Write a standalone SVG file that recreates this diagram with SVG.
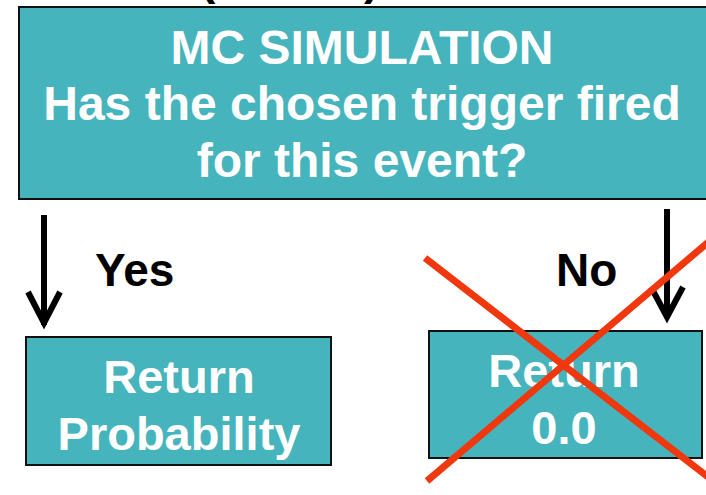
<svg xmlns="http://www.w3.org/2000/svg" width="706" height="495" viewBox="0 0 706 495">
  <style>
    .box { fill: #46b4bc; stroke: #111; stroke-width: 2; }
    .lbl { font-family: "Liberation Sans", Arial, sans-serif; font-weight: bold; fill: #fff; text-anchor: middle; }
    .edge-lbl { font-family: "Liberation Sans", Arial, sans-serif; font-weight: bold; fill: #000; font-size: 46px; }
    .arrow { fill: none; stroke: #000; stroke-width: 6; stroke-linejoin: miter; }
    .cross { stroke: #f0380f; stroke-width: 7; }
  </style>

  <!-- clipped heading fragment above the main box -->
  <text class="edge-lbl" font-size="48" x="200" y="-6">(</text>
  <text class="edge-lbl" font-size="48" x="364" y="-6">)</text>

  <g id="mc-simulation">
    <rect class="box" x="19" y="7" width="700" height="192"/>
    <text class="lbl" font-size="48" x="362" y="64">MC SIMULATION</text>
    <text class="lbl" font-size="48" x="362" y="120">Has the chosen trigger fired</text>
    <text class="lbl" font-size="48" x="362" y="177">for this event?</text>
  </g>

  <g id="return-probability">
    <rect class="box" x="26" y="337" width="305" height="128"/>
    <text class="lbl" font-size="47" x="179" y="393">Return</text>
    <text class="lbl" font-size="47" x="179" y="450">Probability</text>
  </g>

  <g id="return-zero">
    <rect class="box" x="429" y="331" width="273" height="127"/>
    <text class="lbl" font-size="47" x="564" y="387">Return</text>
    <text class="lbl" font-size="47" x="564" y="444">0.0</text>
  </g>

  <g id="connectors">
    <path class="arrow" d="M44 215 V325"/>
    <path class="arrow" d="M28 292 L44 323 L60 292"/>
    <text class="edge-lbl" x="95" y="286">Yes</text>

    <path class="arrow" d="M667 209 V318"/>
    <path class="arrow" d="M651 287 L667 317 L683 287"/>
    <text class="edge-lbl" x="556" y="286">No</text>
  </g>

  <!-- strike-through over the "No" branch -->
  <g id="cross">
    <line class="cross" x1="425" y1="258" x2="712" y2="480"/>
    <line class="cross" x1="427" y1="481" x2="712" y2="239"/>
  </g>
</svg>
